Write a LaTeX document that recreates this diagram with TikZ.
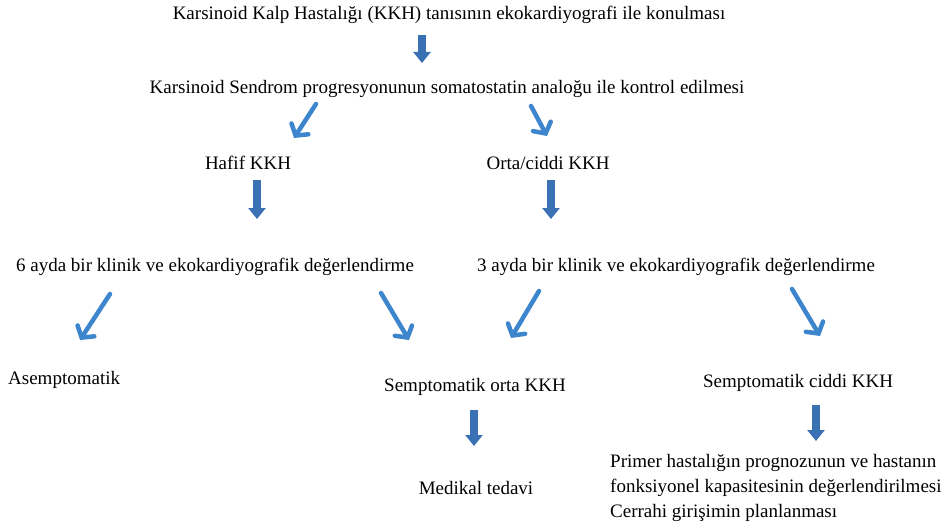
\documentclass[tikz,border=0pt]{standalone}
\usepackage{fontspec}
\setmainfont{Liberation Serif}
\usetikzlibrary{arrows.meta}

\definecolor{blockblue}{RGB}{58,112,180}
\definecolor{diagblue}{RGB}{61,133,204}

\tikzset{
  lbl/.style={inner sep=0pt, font=\fontsize{19}{25}\selectfont},
  blockarr/.style={draw=blockblue, line width=8pt, -{Triangle[length=11pt,width=17pt]}},
  diagarr/.style={draw=diagblue, line width=4.5pt, line cap=round, -{Straight Barb[length=8pt,width=20pt,line cap=round]}}
}

\begin{document}
\begin{tikzpicture}[x=1pt, y=-1pt]
  \useasboundingbox (0,0) rectangle (945,532);

  % text nodes
  \node[lbl] (tani)    at (449,15)  {Karsinoid Kalp Hastalığı (KKH) tanısının ekokardiyografi ile konulması};
  \node[lbl] (kontrol) at (447,89)  {Karsinoid Sendrom progresyonunun somatostatin analoğu ile kontrol edilmesi};
  \node[lbl] (hafif)   at (248,163) {Hafif KKH};
  \node[lbl] (ciddi)   at (548,163) {Orta/ciddi KKH};
  \node[lbl] (alti)    at (215,267) {6 ayda bir klinik ve ekokardiyografik değerlendirme};
  \node[lbl] (uc)      at (676,267) {3 ayda bir klinik ve ekokardiyografik değerlendirme};
  \node[lbl, anchor=west] (asemp) at (8,380) {Asemptomatik};
  \node[lbl] (sorta)   at (475,387) {Semptomatik orta KKH};
  \node[lbl] (sciddi)  at (798,383) {Semptomatik ciddi KKH};
  \node[lbl] (medikal) at (476,488) {Medikal tedavi};
  \node[lbl, anchor=north west, align=left] (cerrahi) at (610,454)
    {Primer hastalığın prognozunun ve hastanın\\fonksiyonel kapasitesinin değerlendirilmesi\\Cerrahi girişimin planlanması};

  % arrow end points
  \coordinate (b1s) at (422,35);  \coordinate (b1e) at (422,63);
  \coordinate (b2s) at (257,180); \coordinate (b2e) at (257,219);
  \coordinate (b3s) at (551,180); \coordinate (b3e) at (551,219);
  \coordinate (b4s) at (474,410); \coordinate (b4e) at (474,446);
  \coordinate (b5s) at (816,405); \coordinate (b5e) at (816,441);

  \coordinate (d1s) at (316,104); \coordinate (d1e) at (294,138);
  \coordinate (d2s) at (531,106); \coordinate (d2e) at (547,136);
  \coordinate (d3s) at (110,294); \coordinate (d3e) at (80,340);
  \coordinate (d4s) at (381,293); \coordinate (d4e) at (409,340);
  \coordinate (d5s) at (539,291); \coordinate (d5e) at (511,338);
  \coordinate (d6s) at (792,289); \coordinate (d6e) at (820,336);

  % block arrows
  \foreach \i in {1,...,5}
    \draw[blockarr] (b\i s) -- (b\i e);

  % diagonal arrows
  \foreach \i in {1,...,6}
    \draw[diagarr] (d\i s) -- (d\i e);
\end{tikzpicture}
\end{document}
